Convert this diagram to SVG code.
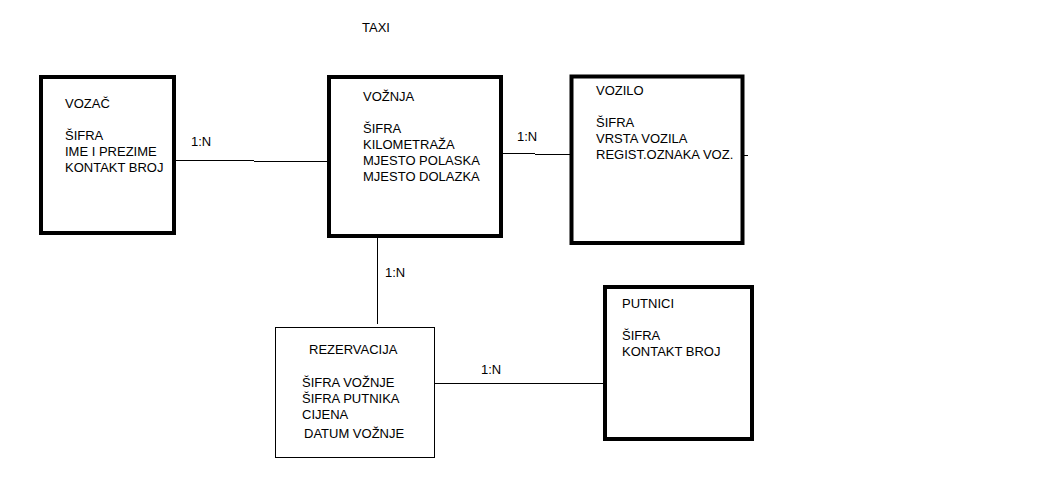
<svg xmlns="http://www.w3.org/2000/svg" width="1046" height="481" viewBox="0 0 1046 481">
<style>
text{font-family:"Liberation Sans",Arial,sans-serif;font-size:13px;fill:#000}
.box{fill:#fff;stroke:#000;stroke-width:4}
.thin{fill:#fff;stroke:#000;stroke-width:1}
.con{stroke:#000;stroke-width:1;fill:none}
</style>
<rect width="1046" height="481" fill="#fff"/>
<text x="362" y="32">TAXI</text>
<g id="connectors">
<line class="con" x1="176" y1="160.5" x2="254" y2="160.5"/>
<line class="con" x1="254" y1="161.5" x2="329" y2="161.5"/>
<line class="con" x1="501" y1="153.5" x2="535" y2="153.5"/>
<line class="con" x1="535" y1="154.5" x2="571" y2="154.5"/>
<line class="con" x1="744" y1="155.5" x2="748" y2="155.5"/>
<line class="con" x1="377.5" y1="238" x2="377.5" y2="324"/>
<line class="con" x1="435" y1="383.5" x2="605" y2="383.5"/>
<text x="191" y="146">1:N</text>
<text x="517" y="141">1:N</text>
<text x="385" y="277">1:N</text>
<text x="481" y="374">1:N</text>
</g>
<g id="vozac">
<rect class="box" x="41" y="77" width="133" height="156"/>
<text x="65" y="108">VOZAČ</text>
<text x="65" y="140">ŠIFRA</text>
<text x="65" y="156">IME I PREZIME</text>
<text x="65" y="172">KONTAKT BROJ</text>
</g>
<g id="voznja">
<rect class="box" x="329" y="77" width="172" height="159"/>
<text x="363" y="101">VOŽNJA</text>
<text x="363" y="133">ŠIFRA</text>
<text x="363" y="149">KILOMETRAŽA</text>
<text x="363" y="165">MJESTO POLASKA</text>
<text x="363" y="181">MJESTO DOLAZKA</text>
</g>
<g id="vozilo">
<rect class="box" x="571.5" y="76.5" width="171" height="166.5" stroke-width="3.5"/>
<text x="596" y="95">VOZILO</text>
<text x="596" y="127">ŠIFRA</text>
<text x="596" y="143">VRSTA VOZILA</text>
<text x="596" y="159">REGIST.OZNAKA VOZ.</text>
</g>
<g id="rezervacija">
<rect class="thin" x="275.5" y="327.5" width="159" height="130"/>
<text x="309" y="354">REZERVACIJA</text>
<text x="302" y="387">ŠIFRA VOŽNJE</text>
<text x="302" y="403">ŠIFRA PUTNIKA</text>
<text x="302" y="419">CIJENA</text>
<text x="304" y="438">DATUM VOŽNJE</text>
</g>
<g id="putnici">
<rect class="box" x="605" y="287" width="147" height="152"/>
<text x="622" y="308">PUTNICI</text>
<text x="622" y="340">ŠIFRA</text>
<text x="622" y="356">KONTAKT BROJ</text>
</g>
</svg>
